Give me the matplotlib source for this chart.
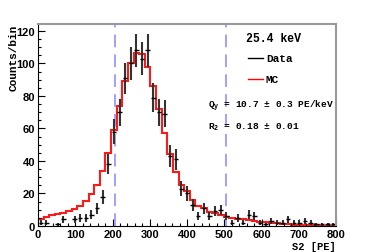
import numpy as np
import matplotlib
matplotlib.use('Agg')
import matplotlib.pyplot as plt
from matplotlib.ticker import MultipleLocator

# histogram binning (S2 in PE)
x_lo = 0
x_hi = 800
n_bins = 53

# data counts per bin (0 = empty bin, not drawn)
data_counts = [2, 2, 0, 1, 4, 0, 4, 5, 5, 7,
               11, 18, 38, 58, 70, 91, 100, 108, 103, 108,
               79, 70, 69, 43, 41, 23, 20, 13, 6, 11,
               6, 9, 10, 6, 2, 5, 2, 7, 6, 2,
               1, 3, 2, 2, 4, 2, 2, 3, 2, 1,
               1, 1, 1]

# MC prediction per bin
mc_counts = [4.5, 5.5, 6.5, 7.4, 8.2, 9.4, 10.5, 12.3, 15.6, 19.5,
             25.5, 34.0, 45.0, 59.0, 74.0, 89.0, 100.0, 106.5, 106.0, 98.0,
             86.0, 72.0, 57.0, 44.5, 33.5, 25.5, 21.7, 16.0, 12.5, 10.9,
             8.8, 7.8, 7.0, 5.7, 5.0, 4.5, 4.0, 3.5, 3.0, 2.6,
             2.2, 1.9, 1.6, 1.3, 1.1, 0.9, 0.7, 0.6, 0.5, 0.4,
             0.3, 0.25, 0.2]

# analysis window
cut_lo = 207
cut_hi = 505

energy_label = '25.4 keV'
qy_label = r'Q$_{\rm y}$ = 10.7 $\pm$ 0.3 PE/keV'
r2_label = r'R$_{\rm 2}$ = 0.18 $\pm$ 0.01'

mono = 'Liberation Mono'
sans = 'Liberation Sans'
plt.rcParams['mathtext.fontset'] = 'custom'
plt.rcParams['mathtext.rm'] = 'Liberation Mono:bold'
plt.rcParams['mathtext.default'] = 'rm'

edges = np.linspace(x_lo, x_hi, n_bins + 1)
centers = 0.5 * (edges[1:] + edges[:-1])
width = edges[1] - edges[0]
data = np.array(data_counts, dtype=float)
mask = data > 0

fig = plt.figure(figsize=(3.74, 2.53), dpi=100)
ax = fig.add_axes([38/374, 26/253, 298/374, 202/253])

ax.axvline(cut_lo, color='#9999ff', lw=1.3, dashes=(7, 4))
ax.axvline(cut_hi, color='#9999ff', lw=1.3, dashes=(7, 4))

ax.stairs(mc_counts, edges, color='#ff1a1a', lw=1.5, baseline=None)

ax.errorbar(centers[mask], data[mask], yerr=np.sqrt(data[mask]), fmt='none',
            ecolor='#333333', elinewidth=1.5, capsize=0)
ax.errorbar(centers[mask], data[mask], xerr=0.4 * width, fmt='none',
            ecolor='black', elinewidth=1.0, capsize=0)

ax.set_xlim(x_lo, x_hi)
ax.set_ylim(0, 124.3)
ax.xaxis.set_major_locator(MultipleLocator(100))
ax.xaxis.set_minor_locator(MultipleLocator(20))
ax.yaxis.set_major_locator(MultipleLocator(20))
ax.yaxis.set_minor_locator(MultipleLocator(5))
ax.tick_params(which='both', direction='in', top=False, right=False,
               labelsize=8, pad=2)
ax.tick_params(which='major', length=5, width=0.8)
ax.tick_params(which='minor', length=2.5, width=0.8)
for lab in ax.get_xticklabels() + ax.get_yticklabels():
    lab.set_fontfamily(sans)
    lab.set_fontweight('bold')

ax.spines['top'].set_color('#999999')
ax.spines['right'].set_color('#999999')
for s in ['top', 'right']:
    ax.spines[s].set_linewidth(1.5)
for s in ['left', 'bottom']:
    ax.spines[s].set_linewidth(0.8)

ax.set_xlabel('S2 [PE]', fontfamily=mono, fontweight='bold', fontsize=7.5)
ax.xaxis.set_label_coords(1.0, -0.075)
ax.xaxis.label.set_horizontalalignment('right')
ax.set_ylabel('Counts/bin', fontfamily=mono, fontweight='bold', fontsize=8)
ax.yaxis.set_label_coords(-0.1, 1.0)
ax.yaxis.label.set_verticalalignment('top')
ax.yaxis.label.set_horizontalalignment('right')

# legend-like text block
ax.text(0.79, 0.93, energy_label, transform=ax.transAxes, fontfamily=mono,
        fontweight='bold', fontsize=8.3, ha='center', va='center')
ax.plot([0.705, 0.755], [0.83, 0.83], transform=ax.transAxes, color='black', lw=1.0)
ax.text(0.765, 0.83, 'Data', transform=ax.transAxes, fontfamily=mono,
        fontweight='bold', fontsize=8, va='center')
ax.plot([0.705, 0.755], [0.73, 0.73], transform=ax.transAxes, color='red', lw=1.0)
ax.text(0.765, 0.73, 'MC', transform=ax.transAxes, fontfamily=mono,
        fontweight='bold', fontsize=8, va='center')
ax.text(0.57, 0.595, qy_label, transform=ax.transAxes, fontfamily=mono,
        fontweight='bold', fontsize=6.8, va='center')
ax.text(0.57, 0.495, r2_label, transform=ax.transAxes, fontfamily=mono,
        fontweight='bold', fontsize=6.8, va='center')

fig.savefig('out.png', dpi=100)
